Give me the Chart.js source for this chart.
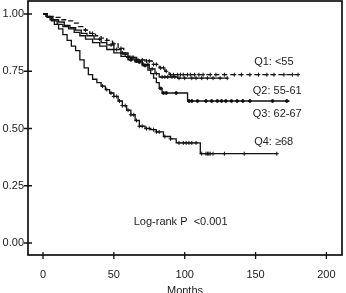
<!DOCTYPE html>
<html>
<head>
<meta charset="utf-8">
<script src="https://cdn.jsdelivr.net/npm/chart.js@4"></script>
<style>
  html, body { margin:0; padding:0; background:#fff; }
  #wrap { width:346px; height:293px; }
</style>
</head>
<body>
<div id="wrap"><canvas id="km"></canvas></div>
<script>
// Kaplan-Meier survival by age quartile
const q1Time = [0, 4, 8, 12, 17, 21, 25, 29, 33, 37, 41, 45, 49, 53, 57, 61, 66, 72, 77, 82, 86, 89, 180];
const q1Surv = [1, 0.99, 0.985, 0.975, 0.97, 0.96, 0.945, 0.93, 0.915, 0.905, 0.895, 0.885, 0.87, 0.85, 0.825, 0.81, 0.80, 0.795, 0.78, 0.765, 0.75, 0.735, 0.735];
const q1Censor = [30, 35, 45, 50, 55, 58, 62, 64, 67, 70, 73, 75, 78, 80, 83, 85, 87, 90, 92, 95, 97, 99, 102, 104, 107, 110, 113, 118, 122, 128, 135, 140, 146, 152, 158, 163, 170, 176, 180];

const q2Time = [0, 3, 7, 11, 15, 19, 23, 27, 31, 36, 41, 45, 50, 55, 60, 65, 70, 75, 79, 82, 95, 130];
const q2Surv = [1, 0.985, 0.975, 0.965, 0.95, 0.94, 0.93, 0.915, 0.905, 0.89, 0.875, 0.865, 0.845, 0.83, 0.81, 0.795, 0.78, 0.76, 0.74, 0.725, 0.72, 0.72];
const q2Censor = [40, 48, 52, 56, 60, 63, 66, 68, 71, 74, 77, 80, 84, 86, 88, 91, 93, 96, 100, 105, 108, 112, 116, 120, 125, 130];

const q3Time = [0, 3, 6, 10, 14, 18, 22, 26, 30, 35, 40, 45, 50, 55, 60, 65, 70, 74, 76, 78, 80, 82, 84, 102, 174];
const q3Surv = [1, 0.985, 0.97, 0.955, 0.945, 0.935, 0.92, 0.905, 0.89, 0.875, 0.86, 0.845, 0.83, 0.815, 0.80, 0.79, 0.775, 0.755, 0.74, 0.72, 0.70, 0.675, 0.655, 0.62, 0.62];
const q3Censor = [62, 68, 72, 83, 85, 87, 94, 103, 105, 109, 115, 119, 123, 126, 129, 133, 137, 141, 146, 162, 172];

const q4Time = [0, 2, 5, 8, 11, 14, 17, 20, 23, 26, 29, 32, 35, 38, 41, 44, 47, 50, 53, 56, 59, 62, 65, 68, 72, 76, 80, 85, 90, 94, 111, 165];
const q4Surv = [1, 0.99, 0.975, 0.955, 0.935, 0.91, 0.885, 0.86, 0.84, 0.80, 0.765, 0.735, 0.715, 0.70, 0.685, 0.67, 0.655, 0.64, 0.62, 0.60, 0.58, 0.56, 0.535, 0.51, 0.50, 0.495, 0.485, 0.465, 0.455, 0.437, 0.39, 0.39];
const q4Censor = [42, 45, 48, 50, 52, 54, 56, 58, 60, 62, 64, 66, 68, 70, 73, 75, 78, 80, 82, 86, 90, 96, 99, 101, 103, 105, 108, 112, 115, 116, 117, 118, 120, 128, 142, 165];

const xTicks = [0, 50, 100, 150, 200];
const yTicks = [0, 0.25, 0.5, 0.75, 1];

const groupLabels = ['Q1: <55', 'Q2: 55-61', 'Q3: 62-67', 'Q4: \u226568'];
const labelAt = [[149, 0.79], [148, 0.664], [148, 0.563], [149, 0.441]];
const pText = 'Log-rank P  <0.001';
const pAt = [64, 0.09];

const FONT = '"Liberation Sans", Arial, Helvetica, sans-serif';

function pairs(t, s){ return t.map((v,i)=>({x:v, y:s[i]})); }
function survAt(t, s, when){
    let v = s[0];
    for(let i=0;i<t.length;i++){ if(t[i] <= when) v = s[i]; }
    return v;
}
function censorPts(c, t, s){ return c.map(m=>({x:m, y:survAt(t, s, m)})); }

const lineDs = (data, dash) => ({
    type:'line', data, stepped:true, borderColor:'#111', borderWidth:1.3,
    borderDash:dash || [], pointRadius:0, fill:false
});
const markDs = (data, style, r) => ({
    type:'scatter', data, pointStyle:style, pointRadius:r, borderColor:'#111',
    backgroundColor:'#111', borderWidth:1
});

const frame = {
    id:'frame',
    afterDraw(chart){
        const {ctx, chartArea:a, scales:{x, y}} = chart;
        ctx.save();
        ctx.strokeStyle = '#111';
        ctx.lineWidth = 1.7;
        ctx.strokeRect(a.left, a.top, a.right - a.left, a.bottom - a.top);
        ctx.lineWidth = 1.3;
        ctx.beginPath();
        yTicks.forEach(v=>{ const py = y.getPixelForValue(v); ctx.moveTo(a.left - 4, py); ctx.lineTo(a.left + 4, py); });
        xTicks.forEach(v=>{ const px = x.getPixelForValue(v); ctx.moveTo(px, a.bottom - 3); ctx.lineTo(px, a.bottom + 4); });
        ctx.stroke();

        ctx.fillStyle = '#222';
        ctx.font = '11px ' + FONT;
        ctx.textBaseline = 'middle';
        ctx.textAlign = 'left';
        groupLabels.forEach((g,i)=>{
            ctx.fillText(g, x.getPixelForValue(labelAt[i][0]), y.getPixelForValue(labelAt[i][1]));
        });
        ctx.fillText(pText, x.getPixelForValue(pAt[0]), y.getPixelForValue(pAt[1]));
        ctx.restore();
    }
};

new Chart(document.getElementById('km'), {
    data:{
        datasets:[
            lineDs(pairs(q1Time, q1Surv), [5, 3]),
            lineDs(pairs(q2Time, q2Surv)),
            lineDs(pairs(q3Time, q3Surv)),
            lineDs(pairs(q4Time, q4Surv)),
            markDs(censorPts(q1Censor, q1Time, q1Surv), 'cross', 2),
            markDs(censorPts(q2Censor, q2Time, q2Surv), 'cross', 2),
            markDs(censorPts(q3Censor, q3Time, q3Surv), 'circle', 1.4),
            markDs(censorPts(q4Censor, q4Time, q4Surv), 'cross', 2)
        ]
    },
    options:{
        responsive:true,
        maintainAspectRatio:false,
        animation:false,
        layout:{ autoPadding:false, padding:{ top:1, right:4, left:0, bottom:0 } },
        plugins:{ legend:{ display:false }, tooltip:{ enabled:false } },
        scales:{
            x:{
                type:'linear', min:-10.6, max:211,
                afterFit(s){ s.height = 38; s.paddingLeft = 0; s.paddingRight = 0; },
                border:{ display:false },
                grid:{ drawOnChartArea:false, drawTicks:true, tickLength:4, color:'rgba(0,0,0,0)' },
                ticks:{ stepSize:50, includeBounds:false, padding:9, color:'#222', font:{ family:FONT, size:11 } },
                title:{ display:true, text:'Months', color:'#222', font:{ family:FONT, size:11 }, padding:{ top:0, bottom:-5 } },
                afterBuildTicks(s){ s.ticks = xTicks.map(v=>({value:v})); }
            },
            y:{
                type:'linear', min:-0.0524, max:1.0568,
                afterFit(s){ s.width = 28; s.paddingTop = 0; s.paddingBottom = 0; },
                border:{ display:false },
                grid:{ drawOnChartArea:false, drawTicks:true, tickLength:4, color:'rgba(0,0,0,0)' },
                ticks:{ padding:0, color:'#222', font:{ family:FONT, size:11 }, callback:v=>v.toFixed(2) },
                afterBuildTicks(s){ s.ticks = yTicks.map(v=>({value:v})); }
            }
        }
    },
    plugins:[frame]
});
</script>
</body>
</html>
